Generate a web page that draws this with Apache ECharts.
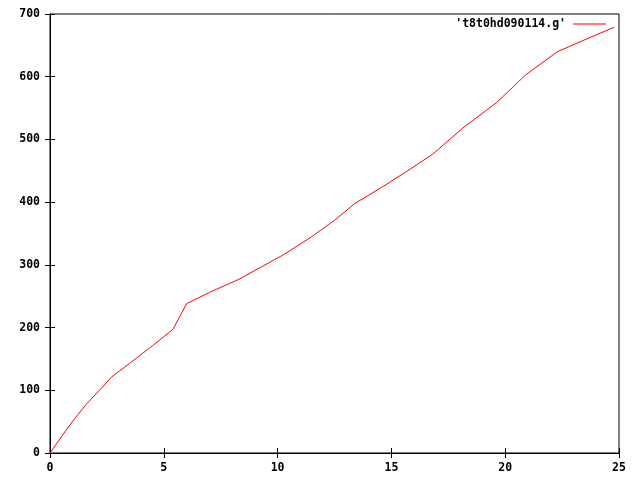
<!DOCTYPE html>
<html><head><meta charset="utf-8">
<script src="https://cdn.jsdelivr.net/npm/echarts@6/dist/echarts.min.js"></script>
<style>html,body{margin:0;padding:0;background:#fff}#c{width:640px;height:480px}</style>
</head><body><div id="c"></div>
<script>
var seriesName = "'t8t0hd090114.g'";
var xValues = [0, 0.5, 1, 1.6, 2.2, 2.7, 3.5, 4.5, 5.4, 6.0, 7.0, 8.3, 9.3, 10.3, 11.5, 12.5, 13.4, 14.5, 15.5, 16.8, 18.2, 19.6, 20.9, 22.3, 23.5, 24.8];
var yValues = [0, 26, 51, 78, 101, 121, 143, 171, 197, 238, 256, 277, 297, 317, 345, 371, 398, 422, 445, 476, 520, 558, 603, 640, 659, 679];
var xTicks = [0, 5, 10, 15, 20, 25];
var yTicks = [0, 100, 200, 300, 400, 500, 600, 700];

var font = {fontFamily: 'DejaVu Sans Mono', fontWeight: 'bold', fontSize: 11.5, color: '#000'};
var data = xValues.map(function (x, i) { return [x, yValues[i]]; });
var chart = echarts.init(document.getElementById('c'), null, {renderer: 'canvas'});
var axLine = {show: true, lineStyle: {color: '#000', width: 1}};
var tick = {show: true, inside: true, length: 5, lineStyle: {color: '#000', width: 1}};
chart.setOption({
  animation: false,
  backgroundColor: '#fff',
  grid: {left: 50, right: 21, top: 14, bottom: 27, show: true, borderColor: '#000', borderWidth: 1, containLabel: false},
  legend: {
    show: true, right: 29, top: 13, align: 'right', itemWidth: 33, itemHeight: 12,
    data: [{name: seriesName, icon: 'path://M0,5.5 L33,5.5 L33,6.5 L0,6.5 Z'}],
    textStyle: Object.assign({padding: [0, 2, 0, 0]}, font),
    itemStyle: {color: '#ff0000'}
  },
  xAxis: [{
    type: 'value', min: xTicks[0], max: xTicks[xTicks.length - 1], interval: xTicks[1] - xTicks[0],
    axisLine: axLine, axisTick: tick, splitLine: {show: false},
    axisLabel: Object.assign({margin: 9}, font)
  }, {
    type: 'value', position: 'top', min: xTicks[0], max: xTicks[xTicks.length - 1], interval: xTicks[1] - xTicks[0],
    axisLine: axLine, axisTick: tick, splitLine: {show: false}, axisLabel: {show: false}
  }],
  yAxis: [{
    type: 'value', min: yTicks[0], max: yTicks[yTicks.length - 1], interval: yTicks[1] - yTicks[0],
    axisLine: axLine, axisTick: tick, splitLine: {show: false},
    axisLabel: Object.assign({margin: 10}, font)
  }, {
    type: 'value', position: 'right', min: yTicks[0], max: yTicks[yTicks.length - 1], interval: yTicks[1] - yTicks[0],
    axisLine: axLine, axisTick: tick, splitLine: {show: false}, axisLabel: {show: false}
  }],
  series: [{
    name: seriesName, type: 'line', data: data, showSymbol: false, symbol: 'none',
    lineStyle: {color: '#ff0000', width: 1}, itemStyle: {color: '#ff0000'}
  }]
});
</script></body></html>
